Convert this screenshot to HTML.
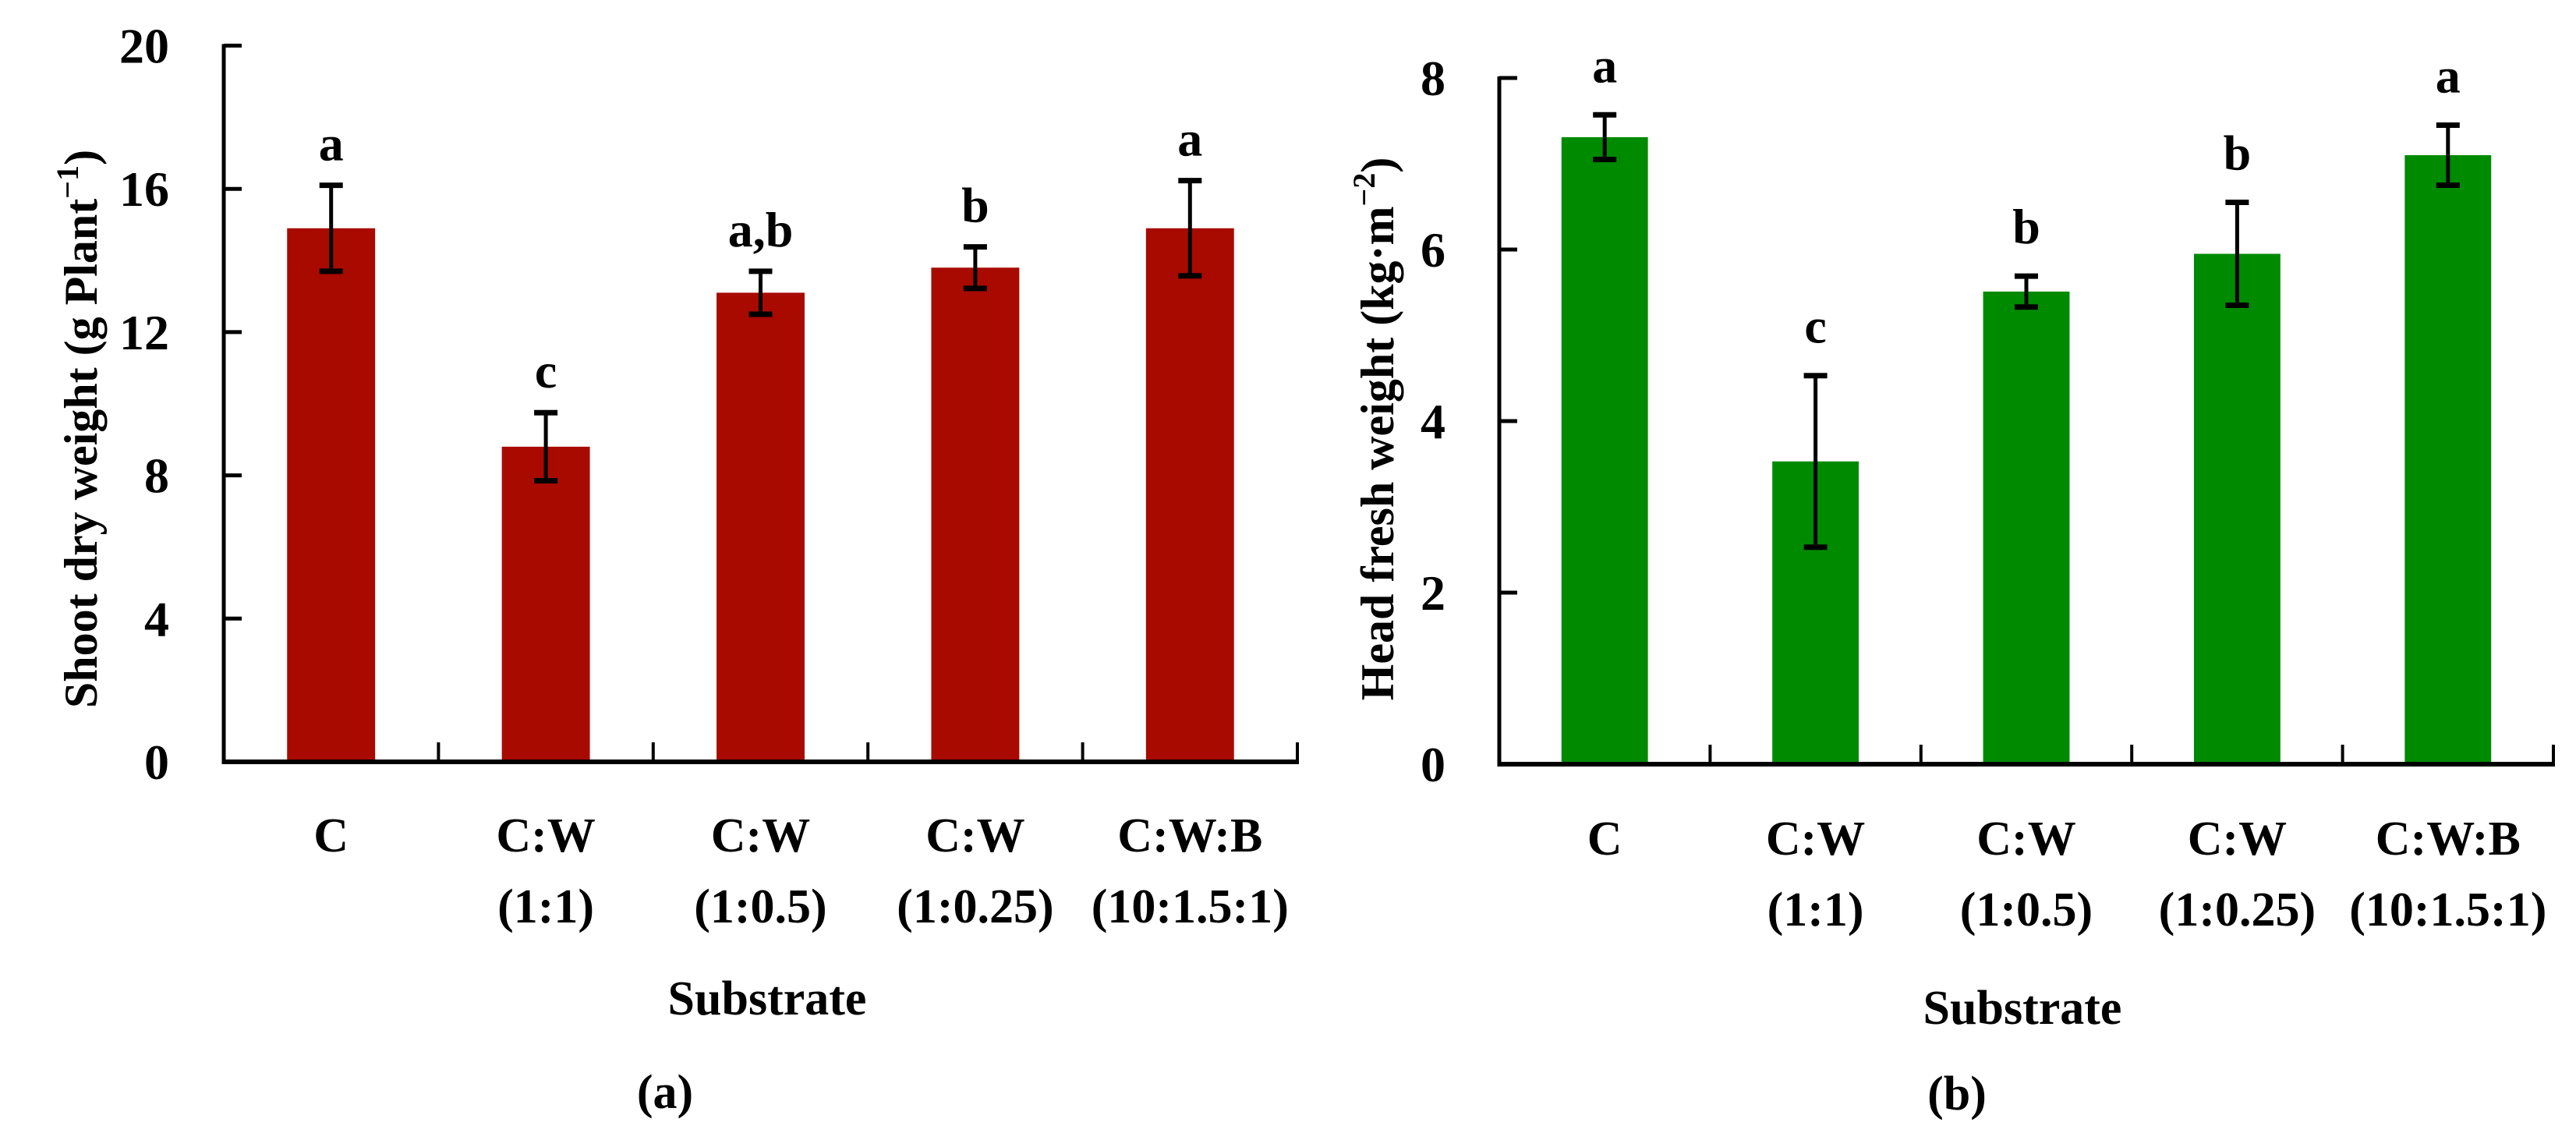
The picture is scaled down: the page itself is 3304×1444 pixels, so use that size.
<!DOCTYPE html>
<html><head><meta charset="utf-8"><style>
html,body{margin:0;padding:0;background:#fff;}
svg{display:block;font-family:"Liberation Serif",serif;font-weight:bold;}
</style></head><body>
<svg id="fig" width="3304" height="1444" viewBox="0 0 3304 1444" xmlns="http://www.w3.org/2000/svg">
<g id="panelA"></g>
<g id="panelB"></g>
</svg>
<script>
const categoriesLine1 = ["C","C:W","C:W","C:W","C:W:B"];
const categoriesLine2 = ["","(1:1)","(1:0.5)","(1:0.25)","(10:1.5:1)"];
const shootMeans = [14.9, 8.8, 13.1, 13.8, 14.9];
const shootErrors = [1.2, 0.95, 0.6, 0.58, 1.33];
const shootLetters = ["a","c","a,b","b","a"];
const shootTicks = [0,4,8,12,16,20];
const headMeans = [7.31, 3.53, 5.51, 5.95, 7.1];
const headErrors = [0.26, 1.0, 0.18, 0.6, 0.35];
const headLetters = ["a","c","b","b","a"];
const headTicks = [0,2,4,6,8];

const NS="http://www.w3.org/2000/svg";
function mk(tag, attrs, parent){const e=document.createElementNS(NS,tag);for(const k in attrs)e.setAttribute(k,attrs[k]);parent.appendChild(e);return e;}

function drawPanel(g, cfg){
  const {x0,x1,y0,yTop,vMax,color,means,errors,letters,ticks,gap,tickLabelRight,titleX,title,titleSup,xTitleX,xTitleY,panelLabel,panelX,panelY,lblY1,lblY2} = cfg;
  const n=means.length, step=(x1-x0)/n, bw=step*0.41;
  const y=v=>y0-(v/vMax)*(y0-yTop);
  const xc=i=>x0+step*(i+0.5);
  means.forEach((m,i)=>{
    const r=mk('rect',{x:xc(i)-bw/2,y:y(m),width:bw,height:y0-y(m),fill:color},g);
    
    
  });
  means.forEach((m,i)=>{
    const eg=mk('g',{stroke:'#000','stroke-width':5},g);
    
    
    const t=y(m+errors[i]), b=y(m-errors[i]);
    mk('line',{x1:xc(i),x2:xc(i),y1:t,y2:b},eg);
    mk('line',{x1:xc(i)-15,x2:xc(i)+15,y1:t,y2:t,'stroke-width':7},eg);
    mk('line',{x1:xc(i)-15,x2:xc(i)+15,y1:b,y2:b,'stroke-width':7},eg);
    const lt=mk('text',{x:xc(i),y:t-gap,'text-anchor':'middle','font-size':64},g);
    lt.textContent=letters[i];
    
    
  });
  const ax=mk('g',{stroke:'#000'},g);
  
  
  mk('line',{x1:x0,x2:x0,y1:yTop-2,y2:y0+3,'stroke-width':5},ax);
  mk('line',{x1:x0-2,x2:x1+2,y1:y0,y2:y0,'stroke-width':6},ax);
  ticks.forEach(t=>{
    mk('line',{x1:x0,x2:x0+23,y1:y(t),y2:y(t),'stroke-width':5},ax);
    const tl=mk('text',{x:tickLabelRight,y:y(t)+22,'text-anchor':'end','font-size':64},g);
    tl.textContent=t;
    
    
  });
  for(let i=1;i<=n;i++){
    mk('line',{x1:x0+step*i,x2:x0+step*i,y1:y0,y2:y0-25,'stroke-width':4},ax);
  }
  categoriesLine1.forEach((c,i)=>{
    const t1=mk('text',{x:xc(i),y:lblY1,'text-anchor':'middle','font-size':62},g);
    t1.textContent=c;
    
    
    if(categoriesLine2[i]){
      const t2=mk('text',{x:xc(i),y:lblY2,'text-anchor':'middle','font-size':62},g);
      t2.textContent=categoriesLine2[i];
      
      
    }
  });
  const yt=mk('text',{x:0,y:0,'text-anchor':'middle','font-size':60,transform:`translate(${titleX},550) rotate(-90)`},g);
  
  
  yt.appendChild(document.createTextNode(title));
  const sp=mk('tspan',{'font-size':40,dy:-24},yt); sp.textContent=titleSup;
  const sp2=mk('tspan',{dy:24},yt); sp2.textContent=')';
  const xt=mk('text',{x:xTitleX,y:xTitleY,'text-anchor':'middle','font-size':62},g);
  xt.textContent='Substrate';
  
  
  const pl=mk('text',{x:panelX,y:panelY,'text-anchor':'middle','font-size':62},g);
  pl.textContent=panelLabel;
  
  
}
drawPanel(document.getElementById('panelA'),{x0:287,x1:1664,y0:977,yTop:58.5,vMax:20,color:'#A80A00',means:shootMeans,errors:shootErrors,letters:shootLetters,ticks:shootTicks,gap:32,tickLabelRight:217,titleX:124,title:'Shoot dry weight (g Plant',titleSup:'\u22121',xTitleX:984,xTitleY:1301,panelLabel:'(a)',panelX:853,panelY:1421,lblY1:1092,lblY2:1183});
drawPanel(document.getElementById('panelB'),{x0:1923,x1:3275,y0:980,yTop:100,vMax:8,color:'#008A00',means:headMeans,errors:headErrors,letters:headLetters,ticks:headTicks,gap:42,tickLabelRight:1854,titleX:1787,title:'Head fresh weight (kg\u00b7m',titleSup:'\u22122',xTitleX:2594,xTitleY:1313,panelLabel:'(b)',panelX:2510,panelY:1423,lblY1:1096,lblY2:1187});
</script>
</body></html>
